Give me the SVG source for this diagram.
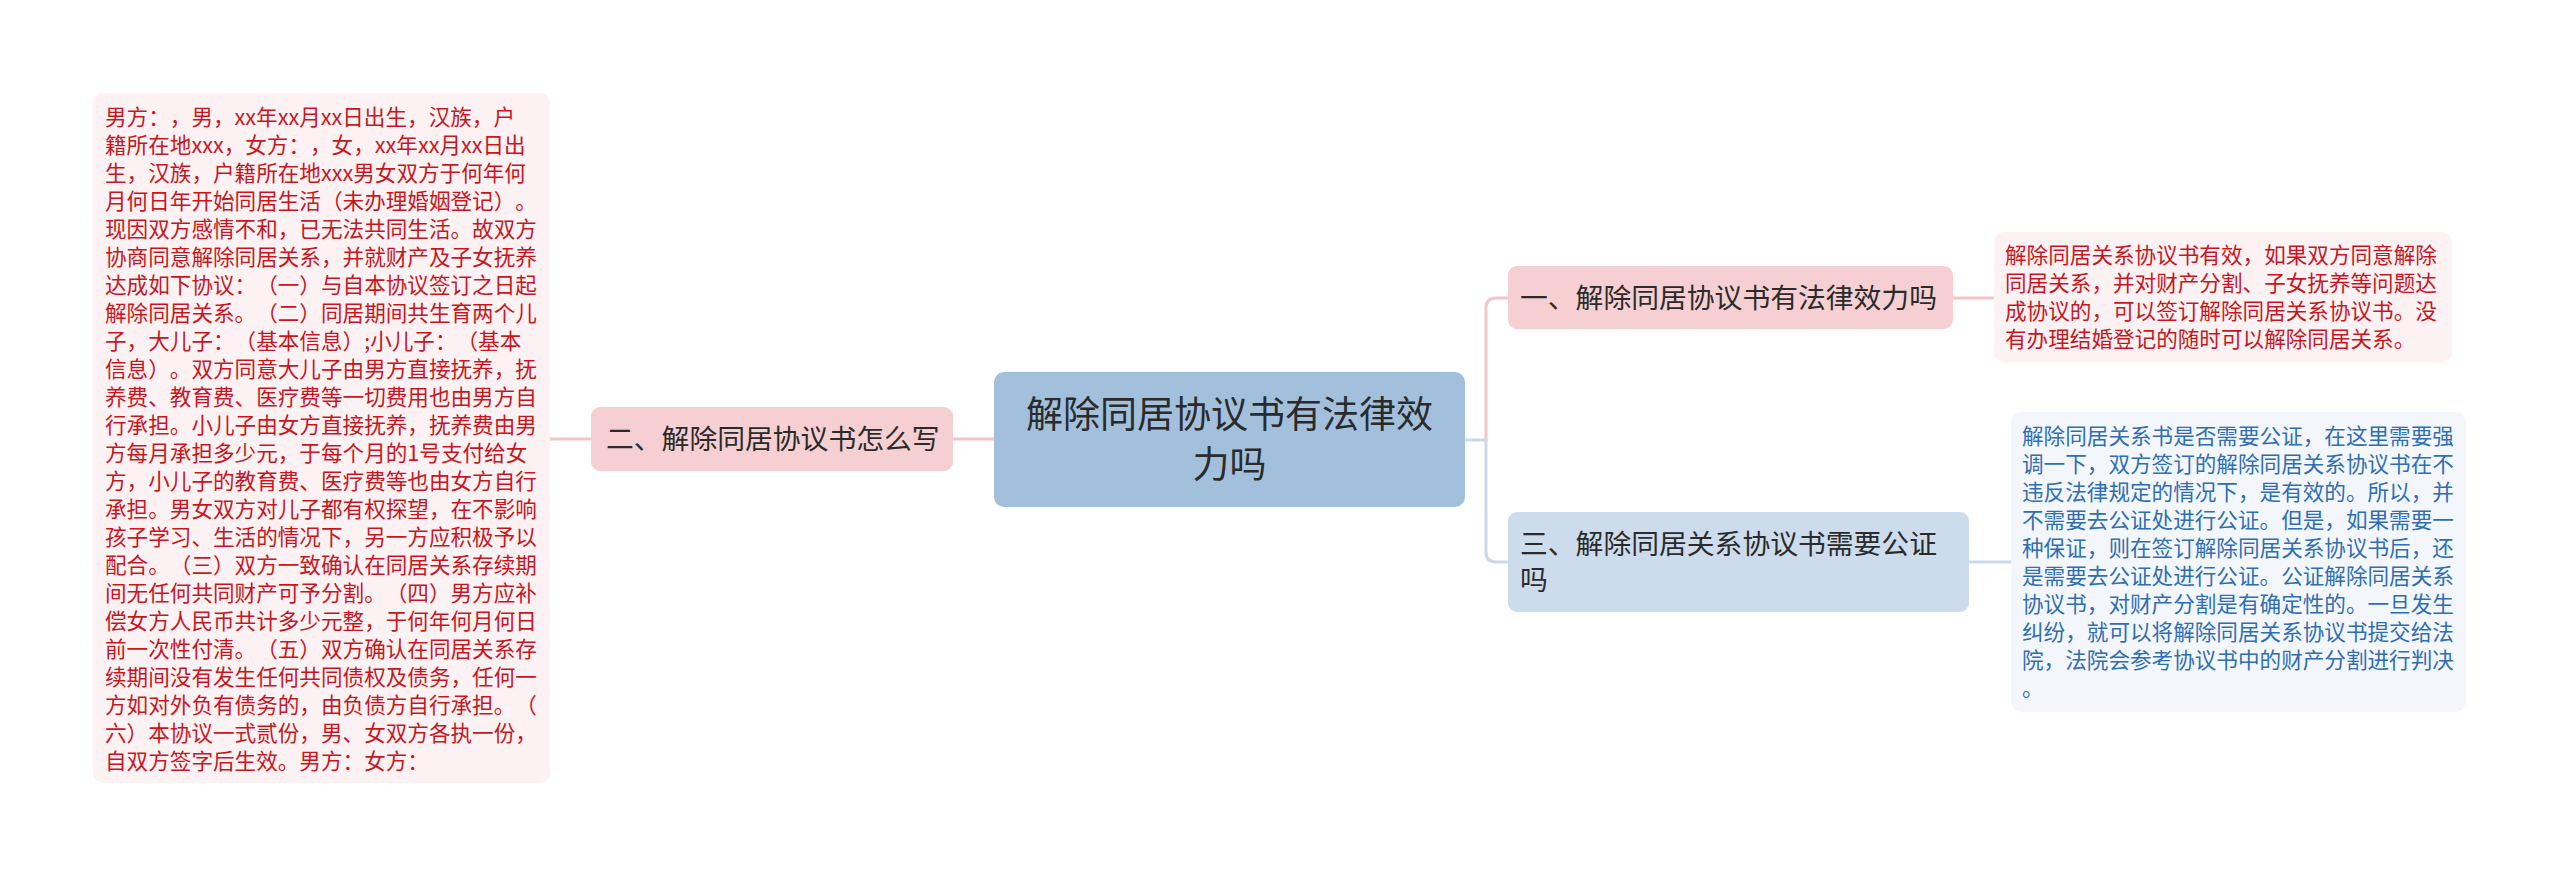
<svg xmlns="http://www.w3.org/2000/svg" width="2560" height="879" viewBox="0 0 2560 879">
<defs>
<style>
text{font-family:"Noto Sans CJK SC","Noto Sans",sans-serif;text-spacing-trim:space-all;font-feature-settings:"chws" 0,"halt" 0,"palt" 0;}
.red{fill:#c8161e;font-size:21.6px;}
.blue{fill:#2f6db5;font-size:21.6px;}
.nt{fill:#2b2b2b;font-size:27.8px;}
.ct{fill:#2b2b2b;font-size:37px;text-anchor:middle;}
.pink{fill:#f5cfd1;}
.lpink{fill:#fdf2f3;}
.lblue{fill:#f3f7fc;}
.cl{fill:none;stroke-width:3;stroke-linecap:round;}
.cp{stroke:#f2c6c8;}
.cb{stroke:#c9d9ea;}
</style>
</defs>
<rect width="2560" height="879" fill="#ffffff"/>
<g id="connectors">
<line class="cl cp" x1="994" y1="439" x2="953" y2="439"/>
<line class="cl cp" x1="591" y1="439" x2="550" y2="439"/>
<line class="cl cb" x1="1465" y1="440" x2="1486" y2="440"/>
<path class="cl cp" d="M1486 440 V308 Q1486 298 1496 298 H1508"/>
<path class="cl cb" d="M1486 440 V552 Q1486 562 1496 562 H1508"/>
<line class="cl cp" x1="1953" y1="298" x2="1994" y2="298"/>
<line class="cl cb" x1="1969" y1="562" x2="2011" y2="562"/>
</g>
<g id="central">
<rect x="994" y="372" width="471" height="135" rx="10" fill="#a2c0dc"/>
<text class="ct"><tspan x="1229.5" y="427.5">解除同居协议书有法律效</tspan><tspan x="1229.5" y="477.5">力吗</tspan></text>
</g>
<g id="node-left">
<rect class="pink" x="591" y="407" width="362" height="64" rx="9"/>
<text class="nt" x="606" y="449">二、解除同居协议书怎么写</text>
</g>
<g id="node-1">
<rect class="pink" x="1508" y="266" width="445" height="63" rx="9"/>
<text class="nt" x="1520" y="308">一、解除同居协议书有法律效力吗</text>
</g>
<g id="node-3">
<rect x="1508" y="512" width="461" height="100" rx="9" fill="#ccdcec"/>
<text class="nt"><tspan x="1520" y="554">三、解除同居关系协议书需要公证</tspan><tspan x="1520" y="590">吗</tspan></text>
</g>
<g id="box-left">
<rect class="lpink" x="93" y="93" width="457" height="690" rx="10"/>
<text class="red">
<tspan x="105" y="125">男方：，男，xx年xx月xx日出生，汉族，户</tspan>
<tspan x="105" y="153">籍所在地xxx，女方：，女，xx年xx月xx日出</tspan>
<tspan x="105" y="181">生，汉族，户籍所在地xxx男女双方于何年何</tspan>
<tspan x="105" y="209">月何日年开始同居生活（未办理婚姻登记）。</tspan>
<tspan x="105" y="237">现因双方感情不和，已无法共同生活。故双方</tspan>
<tspan x="105" y="265">协商同意解除同居关系，并就财产及子女抚养</tspan>
<tspan x="105" y="293">达成如下协议：（一）与自本协议签订之日起</tspan>
<tspan x="105" y="321">解除同居关系。（二）同居期间共生育两个儿</tspan>
<tspan x="105" y="349">子，大儿子：（基本信息）;小儿子：（基本</tspan>
<tspan x="105" y="377">信息）。双方同意大儿子由男方直接抚养，抚</tspan>
<tspan x="105" y="405">养费、教育费、医疗费等一切费用也由男方自</tspan>
<tspan x="105" y="433">行承担。小儿子由女方直接抚养，抚养费由男</tspan>
<tspan x="105" y="461">方每月承担多少元，于每个月的1号支付给女</tspan>
<tspan x="105" y="489">方，小儿子的教育费、医疗费等也由女方自行</tspan>
<tspan x="105" y="517">承担。男女双方对儿子都有权探望，在不影响</tspan>
<tspan x="105" y="545">孩子学习、生活的情况下，另一方应积极予以</tspan>
<tspan x="105" y="573">配合。（三）双方一致确认在同居关系存续期</tspan>
<tspan x="105" y="601">间无任何共同财产可予分割。（四）男方应补</tspan>
<tspan x="105" y="629">偿女方人民币共计多少元整，于何年何月何日</tspan>
<tspan x="105" y="657">前一次性付清。（五）双方确认在同居关系存</tspan>
<tspan x="105" y="685">续期间没有发生任何共同债权及债务，任何一</tspan>
<tspan x="105" y="713">方如对外负有债务的，由负债方自行承担。（</tspan>
<tspan x="105" y="741">六）本协议一式贰份，男、女双方各执一份，</tspan>
<tspan x="105" y="769">自双方签字后生效。男方：女方：</tspan>
</text>
</g>
<g id="box-right-1">
<rect class="lpink" x="1994" y="232" width="458" height="130" rx="10"/>
<text class="red">
<tspan x="2005" y="263">解除同居关系协议书有效，如果双方同意解除</tspan>
<tspan x="2005" y="291">同居关系，并对财产分割、子女抚养等问题达</tspan>
<tspan x="2005" y="319">成协议的，可以签订解除同居关系协议书。没</tspan>
<tspan x="2005" y="347">有办理结婚登记的随时可以解除同居关系。</tspan>
</text>
</g>
<g id="box-right-3">
<rect class="lblue" x="2011" y="412" width="455" height="300" rx="10"/>
<text class="blue">
<tspan x="2022" y="444">解除同居关系书是否需要公证，在这里需要强</tspan>
<tspan x="2022" y="472">调一下，双方签订的解除同居关系协议书在不</tspan>
<tspan x="2022" y="500">违反法律规定的情况下，是有效的。所以，并</tspan>
<tspan x="2022" y="528">不需要去公证处进行公证。但是，如果需要一</tspan>
<tspan x="2022" y="556">种保证，则在签订解除同居关系协议书后，还</tspan>
<tspan x="2022" y="584">是需要去公证处进行公证。公证解除同居关系</tspan>
<tspan x="2022" y="612">协议书，对财产分割是有确定性的。一旦发生</tspan>
<tspan x="2022" y="640">纠纷，就可以将解除同居关系协议书提交给法</tspan>
<tspan x="2022" y="668">院，法院会参考协议书中的财产分割进行判决</tspan>
<tspan x="2022" y="696">。</tspan>
</text>
</g>
</svg>
